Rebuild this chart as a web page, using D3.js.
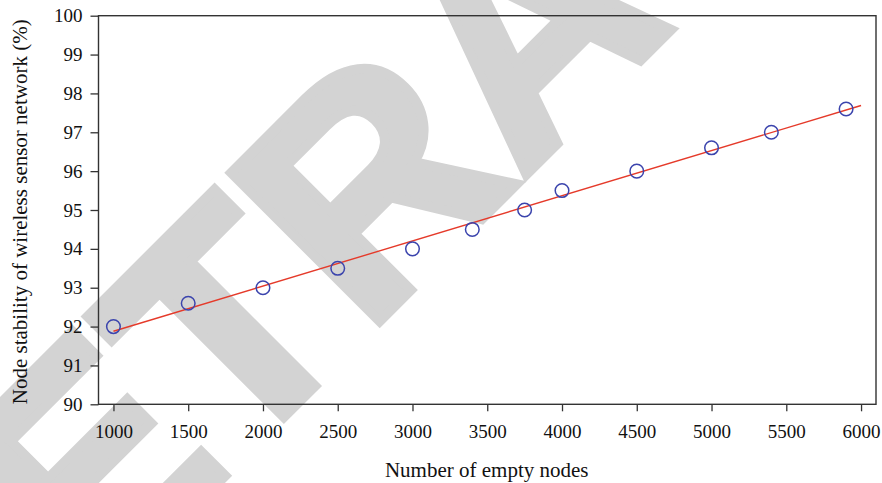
<!DOCTYPE html>
<html>
<head>
<meta charset="utf-8">
<script src="https://cdn.jsdelivr.net/npm/d3@7"></script>
<style>
  html, body { margin: 0; padding: 0; background: #fff; }
  svg { display: block; }
</style>
</head>
<body>
<svg id="chart" width="882" height="483"></svg>
<script>
// ---- data ----
const emptyNodes = [1000, 1500, 2000, 2500, 3000, 3400, 3750, 4000, 4500, 5000, 5400, 5900];
const stability  = [92.0, 92.6, 93.0, 93.5, 94.0, 94.5, 95.0, 95.5, 96.0, 96.6, 97.0, 97.6];
const fitX = [1000, 6000];
const fitY = [91.88, 97.69];
const xTicks = [1000, 1500, 2000, 2500, 3000, 3500, 4000, 4500, 5000, 5500, 6000];
const yTicks = [90, 91, 92, 93, 94, 95, 96, 97, 98, 99, 100];
const xTitle = "Number of empty nodes";
const yTitle = "Node stability of wireless sensor network (%)";
const watermarkText = "RETRACTED";

// ---- layout ----
const W = 882, H = 483;
const margin = { left: 98.5, top: 15.7, right: 6, bottom: 78.7 };
const iw = W - margin.left - margin.right;
const ih = H - margin.top - margin.bottom;

const svg = d3.select("#chart");

// watermark (behind everything)
svg.append("text")
  .attr("transform", "rotate(-45)")
  .attr("x", -589)
  .attr("y", 495.6)
  .attr("font-family", "'Liberation Sans', Arial, sans-serif")
  .attr("font-weight", "bold")
  .attr("font-size", 305)
  .attr("fill", "#d3d3d3")
  .attr("stroke", "#d3d3d3")
  .attr("stroke-width", 10)
  .attr("stroke-linejoin", "miter")
  .text(watermarkText);

const g = svg.append("g").attr("transform", `translate(${margin.left},${margin.top})`);

const x = d3.scaleLinear().domain([900, 6100]).range([0, iw]);
const y = d3.scaleLinear().domain([90, 100]).range([ih, 0]);

const serif = "'Liberation Serif', 'Times New Roman', serif";

// axes
const xAxis = g.append("g")
  .attr("transform", `translate(0,${ih})`)
  .call(d3.axisBottom(x).tickValues(xTicks).tickFormat(d3.format("d")).tickSize(7).tickSizeOuter(0).tickPadding(13));
const yAxis = g.append("g")
  .call(d3.axisLeft(y).tickValues(yTicks).tickFormat(d3.format("d")).tickSize(8).tickSizeOuter(0).tickPadding(8));

[xAxis, yAxis].forEach(a => {
  a.selectAll("path.domain").remove();
  a.selectAll("line").attr("stroke", "#333").attr("stroke-width", 1.3);
  a.selectAll("text").attr("font-family", serif).attr("font-size", 19).attr("fill", "#111");
});

// frame
g.append("rect")
  .attr("x", 0).attr("y", 0).attr("width", iw).attr("height", ih)
  .attr("fill", "none").attr("stroke", "#333").attr("stroke-width", 1.4);

// fit line
const fitData = fitX.map((v, i) => [v, fitY[i]]);
g.append("path")
  .datum(fitData)
  .attr("fill", "none")
  .attr("stroke", "#e53a2a")
  .attr("stroke-width", 1.4)
  .attr("d", d3.line().x(d => x(d[0])).y(d => y(d[1])));

// points
const pts = emptyNodes.map((v, i) => [v, stability[i]]);
g.selectAll("circle.pt")
  .data(pts)
  .enter().append("circle")
  .attr("class", "pt")
  .attr("cx", d => x(d[0]))
  .attr("cy", d => y(d[1]))
  .attr("r", 6.8)
  .attr("fill", "none")
  .attr("stroke", "#3b44ad")
  .attr("stroke-width", 1.5);

// titles
svg.append("text")
  .attr("x", 486.7).attr("y", 477)
  .attr("text-anchor", "middle")
  .attr("font-family", serif).attr("font-size", 21).attr("fill", "#111")
  .text(xTitle);

svg.append("text")
  .attr("transform", "translate(27.3,211.8) rotate(-90)")
  .attr("text-anchor", "middle")
  .attr("font-family", serif).attr("font-size", 21).attr("fill", "#111")
  .text(yTitle);
</script>
</body>
</html>
